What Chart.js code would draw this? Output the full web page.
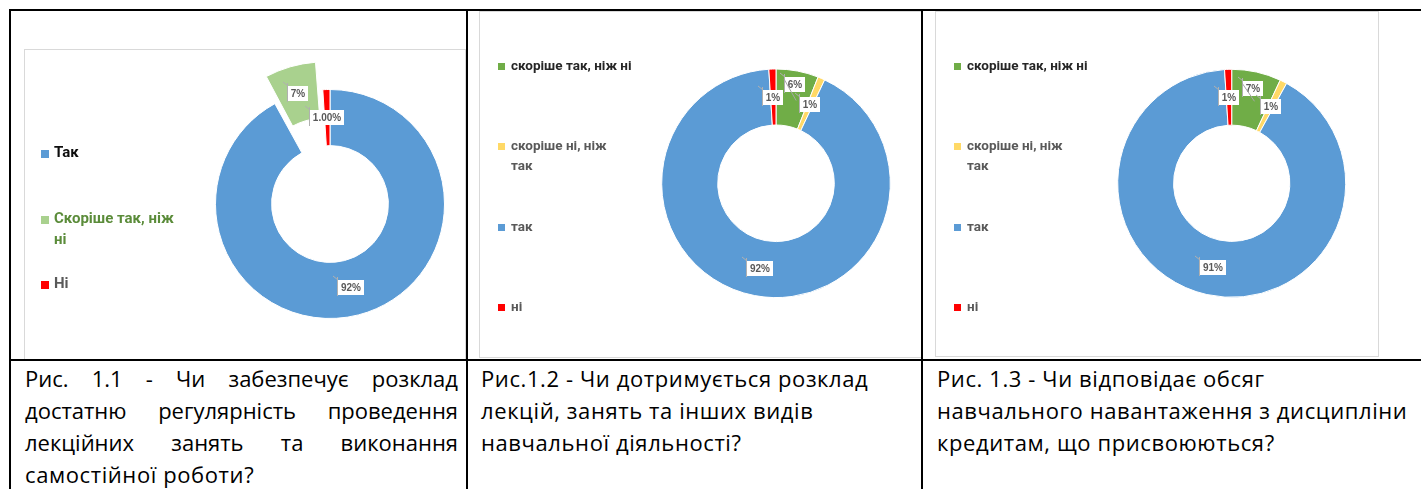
<!DOCTYPE html>
<html>
<head>
<meta charset="utf-8">
<script src="https://cdn.jsdelivr.net/npm/chart.js@4.4.0/dist/chart.umd.min.js"></script>
<style>
  html, body { margin: 0; padding: 0; background: #fff; }
  #page { position: relative; width: 1421px; height: 489px; overflow: hidden; }
  .rule { position: absolute; background: #000; z-index: 5; }
  .box { position: absolute; border: 1px solid #d9d9d9; box-sizing: border-box; background: #fff; z-index: 2; }
  canvas { position: absolute; z-index: 3; }
  .legend { position: absolute; z-index: 4; }
  .leg-item { position: absolute; font-family: Roboto, "Liberation Sans", sans-serif; font-weight: bold; white-space: nowrap; }
  .leg-item .sw { position: absolute; left: 0; }
  .leg-item .tx { position: absolute; }
  .cap { position: absolute; top: 362px; font-family: "Open Sans", sans-serif; font-size: 22px; line-height: 32px; letter-spacing: 0.6px; color: #000; }
  .cap .just { text-align: justify; text-align-last: justify; letter-spacing: 0; }
</style>
</head>
<body>
<div id="page">
  <!-- table rules -->
  <div class="rule" style="left:9px; top:9px; width:1412px; height:2px;"></div>
  <div class="rule" style="left:9px; top:9px; width:2px; height:480px;"></div>
  <div class="rule" style="left:466px; top:9px; width:2px; height:480px;"></div>
  <div class="rule" style="left:921px; top:9px; width:2px; height:480px;"></div>
  <div class="rule" style="left:9px; top:359px; width:1412px; height:2px;"></div>

  <div class="box" style="left:24px; top:49px; width:442px; height:312px;"></div>
  <div class="box" style="left:479px; top:11px; width:443px; height:347px;"></div>
  <div class="box" style="left:935px; top:11px; width:444px; height:346px;"></div>

  <canvas id="c1"></canvas>
  <canvas id="c2"></canvas>
  <canvas id="c3"></canvas>
  <div class="legend" id="l1"></div>
  <div class="legend" id="l2"></div>
  <div class="legend" id="l3"></div>

  <div class="cap" id="cap1" style="left:25px; width:433px;"></div>
  <div class="cap" id="cap2" style="left:481px;"></div>
  <div class="cap" id="cap3" style="left:937px;"></div>
</div>
<script>
// ---- data ----
const labels1 = ['Так', 'Скоріше так, ніж ні', 'Ні'];
const values1 = [92, 7, 1];

const labels2 = ['скоріше так, ніж ні', 'скоріше ні, ніж так', 'так', 'ні'];
const values2 = [6, 1, 92, 1];

const labels3 = ['скоріше так, ніж ні', 'скоріше ні, ніж так', 'так', 'ні'];
const values3 = [7, 1, 91, 1];

const caption1 = ['Рис. 1.1 - Чи забезпечує розклад', 'достатню регулярність проведення', 'лекційних занять та виконання', 'самостійної роботи?'];
const caption2 = ['Рис.1.2 - Чи дотримується розклад', 'лекцій, занять та інших видів', 'навчальної діяльності?'];
const caption3 = ['Рис. 1.3 - Чи відповідає обсяг', 'навчального навантаження з дисципліни', 'кредитам, що присвоюються?'];

// ---- styles ----
const BLUE = '#5B9BD5', RED = '#FF0000', LGREEN = '#A9D18E', GREEN = '#70AD47', YELLOW = '#FFD966';

// how far Chart.js actually pushes an exploded arc outward (v4 arc geometry)
function arcPush(arc) {
  const off = arc.options.offset || 0;
  if (!off) return 0;
  const fix = 1 - Math.sin(Math.min(Math.PI, arc.circumference || 0));
  return off / 4 * (1 + fix);
}

// value labels: white boxes at the slice centroid
const sliceLabels = {
  id: 'sliceLabels',
  afterDatasetsDraw(chart, args, opts) {
    const ctx = chart.ctx;
    const meta = chart.getDatasetMeta(0);
    const values = chart.data.datasets[0].data;
    const shifts = opts.shift || [];
    const decs = opts.decimals || [];
    ctx.save();
    ctx.font = 'bold 10px "Liberation Sans", Arial, sans-serif';
    ctx.textAlign = 'center';
    ctx.textBaseline = 'middle';
    ctx.lineWidth = 1;
    meta.data.forEach((arc, i) => {
      const p = arc.getProps(['x', 'y', 'startAngle', 'endAngle', 'innerRadius', 'outerRadius']);
      const mid = (p.startAngle + p.endAngle) / 2;
      const r = (p.innerRadius + p.outerRadius) / 2 + arcPush(arc);
      const cx = p.x + Math.cos(mid) * r;
      const cy = p.y + Math.sin(mid) * r;
      const s = shifts[i] || 0;
      const lx = cx + Math.cos(mid) * s;
      const ly = cy + Math.sin(mid) * s;
      const text = values[i].toFixed(decs[i] || 0) + '%';
      const w = Math.round(ctx.measureText(text).width + 6), h = 15;
      const bx = Math.round(lx - w / 2), by = Math.round(ly - h / 2);

      ctx.strokeStyle = '#b0b0b0';
      ctx.beginPath();
      ctx.moveTo(bx - 0.5, by - 3); ctx.lineTo(bx - 0.5, by + h + 1);
      ctx.moveTo(bx - 5, by - 4); ctx.lineTo(bx, by);
      ctx.stroke();

      ctx.fillStyle = '#fff';
      ctx.fillRect(bx, by, w, h);
      ctx.fillStyle = '#595959';
      ctx.fillText(text, bx + w / 2, by + h / 2 + 0.5);

      if (s) {
        ctx.strokeStyle = '#a6a6a6';
        ctx.beginPath();
        ctx.moveTo(bx - 1, by + 2); ctx.lineTo(cx + 4, cy + 2);
        ctx.stroke();
      }
    });
    ctx.restore();
  }
};

function makeDoughnut(id, labels, values, colors, opt) {
  const canvas = document.getElementById(id);
  const b = opt.box;
  canvas.width = b.w; canvas.height = b.h;
  canvas.style.left = b.x + 'px'; canvas.style.top = b.y + 'px';
  const cx = opt.center.x - b.x, cy = opt.center.y - b.y;
  const padding = {
    left: Math.max(2 * cx - b.w, 0), right: Math.max(b.w - 2 * cx, 0),
    top: Math.max(2 * cy - b.h, 0), bottom: Math.max(b.h - 2 * cy, 0)
  };
  const chart = new Chart(canvas, {
    type: 'doughnut',
    data: {
      labels,
      datasets: [{
        data: values,
        backgroundColor: colors,
        borderColor: '#fff',
        borderWidth: 1,
        hoverBorderWidth: 1,
        hoverOffset: 0,
        offset: opt.offset || 0,
        clip: false,
      }],
    },
    options: {
      responsive: false,
      animation: false,
      devicePixelRatio: 1,
      events: [],
      radius: opt.radius,
      cutout: '51%',
      layout: { padding },
      plugins: {
        legend: { display: false },
        tooltip: { enabled: false },
        sliceLabels: { shift: opt.shift, decimals: opt.decimals },
      },
    },
    plugins: [sliceLabels],
  });
  buildLegend(chart, opt);
  return chart;
}

// legend built from the chart's own legend items
function buildLegend(chart, opt) {
  const el = document.getElementById(opt.legendId);
  const L = opt.legend;
  el.style.left = (opt.box.x + L.x) + 'px';
  el.style.top = opt.box.y + 'px';
  const items = Chart.overrides.doughnut.plugins.legend.labels.generateLabels(chart);
  items.forEach((it, i) => {
    const div = document.createElement('div');
    div.className = 'leg-item';
    div.style.top = L.tops[i] + 'px';
    div.style.fontSize = L.font + 'px';
    div.style.lineHeight = L.lh + 'px';
    const sw = document.createElement('span');
    sw.className = 'sw';
    sw.style.width = sw.style.height = L.sw + 'px';
    sw.style.top = ((L.lh - L.sw) / 2 + 1) + 'px';
    sw.style.background = it.fillStyle;
    const tx = document.createElement('span');
    tx.className = 'tx';
    tx.style.left = L.gap + 'px';
    tx.style.color = L.colors[i];
    const words = it.text.split(' ');
    const brk = L.breaks[i];
    if (brk) {
      tx.appendChild(document.createTextNode(words.slice(0, brk).join(' ')));
      tx.appendChild(document.createElement('br'));
      tx.appendChild(document.createTextNode(words.slice(brk).join(' ')));
    } else {
      tx.textContent = it.text;
    }
    div.appendChild(sw);
    div.appendChild(tx);
    el.appendChild(div);
  });
}

makeDoughnut('c1', labels1, values1, [BLUE, LGREEN, RED], {
  box: { x: 24, y: 49, w: 442, h: 310 },
  center: { x: 330, y: 204 },
  radius: 114.5,
  offset: [0, 72, 0],
  decimals: [0, 0, 2],
  legendId: 'l1',
  legend: { x: 17, sw: 8, gap: 13, font: 15, lh: 21, tops: [93, 159, 224],
            breaks: [0, 3, 0], colors: ['#0d0d0d', '#5b8c3a', '#595959'] },
});

makeDoughnut('c2', labels2, values2, [GREEN, YELLOW, BLUE, RED], {
  box: { x: 479, y: 11, w: 442, h: 346 },
  center: { x: 776, y: 183.3 },
  radius: 114.3,
  shift: [14, 0, 0, 0],
  legendId: 'l2',
  legend: { x: 19, sw: 7, gap: 13, font: 13.5, lh: 20, tops: [44, 124, 205, 285],
            breaks: [0, 3, 0, 0], colors: ['#262626', '#595959', '#595959', '#595959'] },
});

makeDoughnut('c3', labels3, values3, [GREEN, YELLOW, BLUE, RED], {
  box: { x: 935, y: 11, w: 443, h: 345 },
  center: { x: 1231.7, y: 183.3 },
  radius: 114,
  shift: [11, 0, 0, 0],
  legendId: 'l3',
  legend: { x: 19, sw: 7, gap: 13, font: 13.5, lh: 20, tops: [44, 124, 205, 285],
            breaks: [0, 3, 0, 0], colors: ['#262626', '#595959', '#595959', '#595959'] },
});

// captions
function fillCaption(id, lines, justify) {
  const el = document.getElementById(id);
  lines.forEach((t, i) => {
    const d = document.createElement('div');
    d.textContent = t;
    if (justify && i < lines.length - 1) d.className = 'just';
    el.appendChild(d);
  });
}
fillCaption('cap1', caption1, true);
fillCaption('cap2', caption2, false);
fillCaption('cap3', caption3, false);
</script>
</body>
</html>
